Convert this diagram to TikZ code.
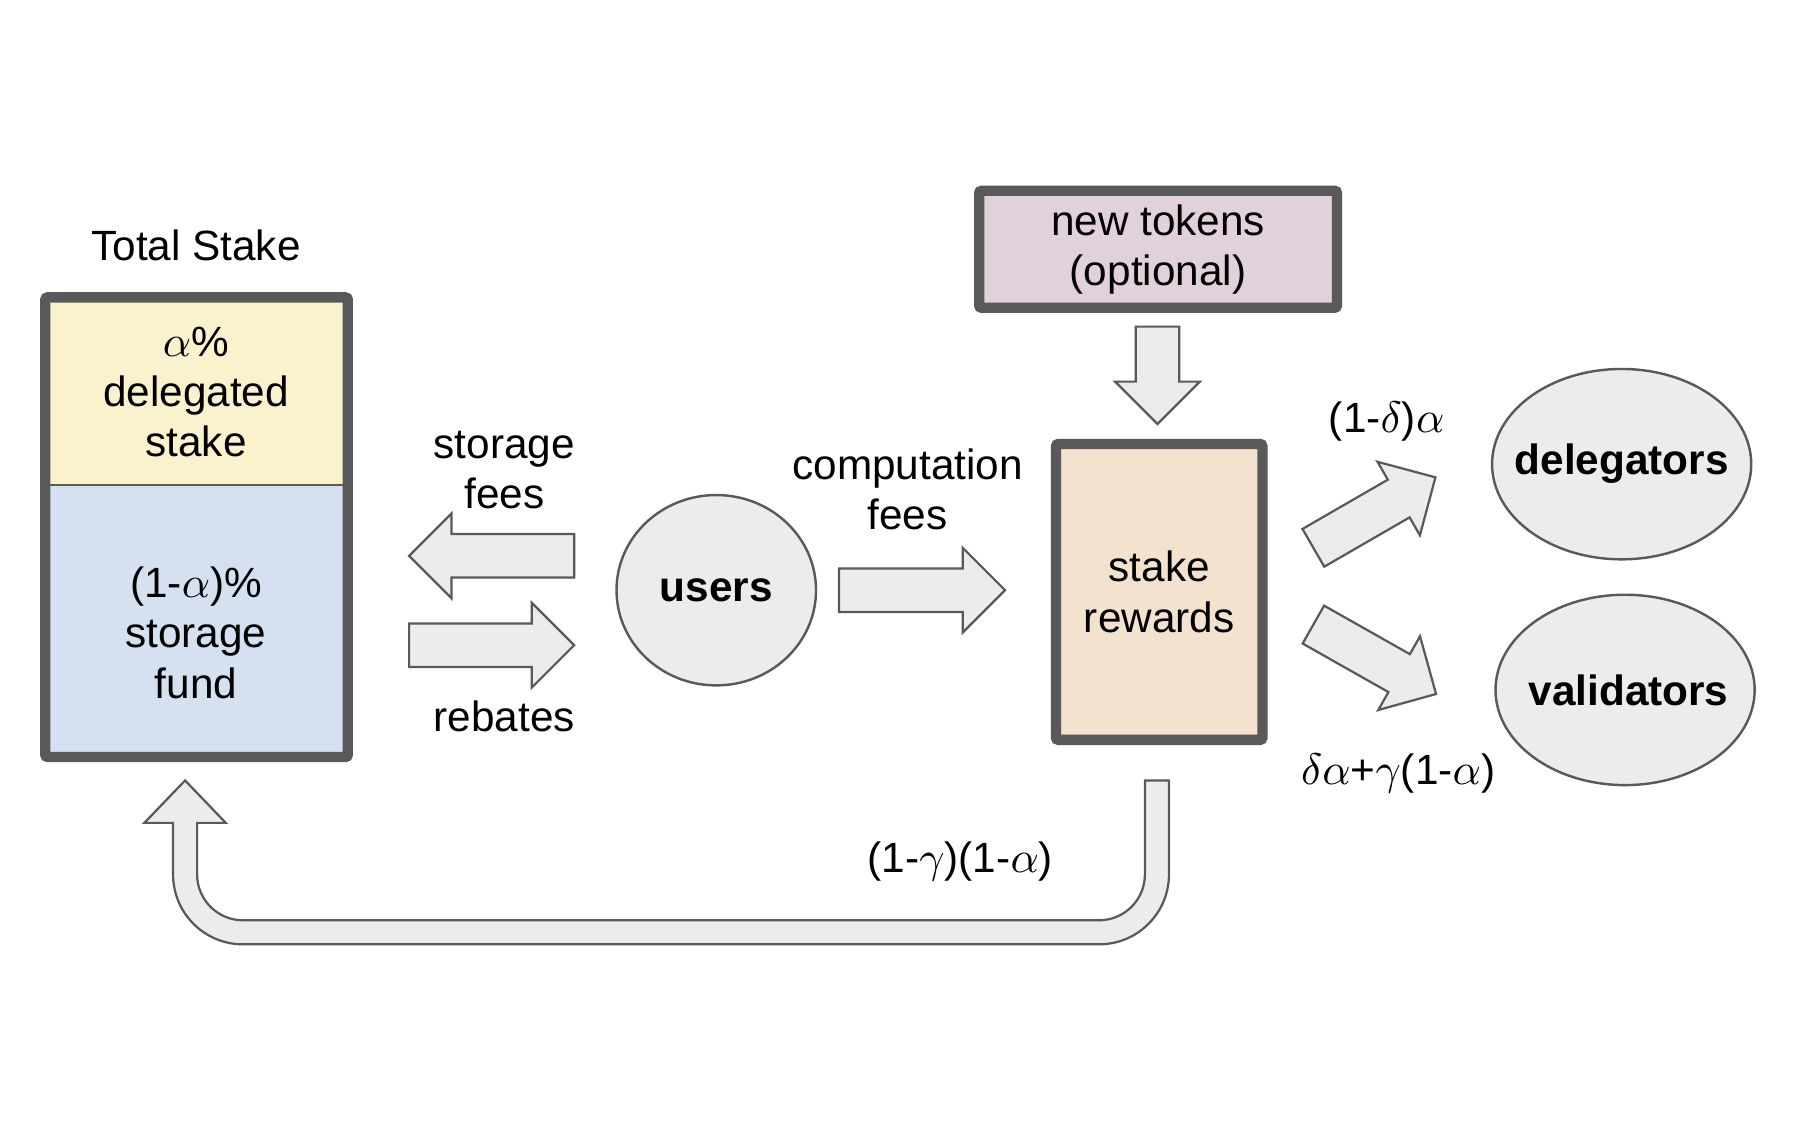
\documentclass[tikz,border=0pt]{standalone}
\usepackage{fontspec}
\setmainfont{Liberation Sans}
\usetikzlibrary{shapes.geometric}

\definecolor{framegray}{RGB}{89,89,89}
\definecolor{flowgray}{RGB}{236,236,236}
\definecolor{stakeyellow}{RGB}{250,242,205}
\definecolor{fundblue}{RGB}{213,225,241}
\definecolor{rewardtan}{RGB}{243,227,206}
\definecolor{tokenpink}{RGB}{225,209,219}

\tikzset{
    box/.style={draw=framegray, line width=0.09cm, rounded corners=0.6pt},
    blob/.style={ellipse, draw=framegray, line width=0.6pt, fill=flowgray, inner sep=0pt},
    flow/.style={draw=framegray, line width=0.55pt, fill=flowgray},
    txt/.style={align=center, font=\fontsize{10.5}{12.5}\selectfont},
}

\begin{document}
\begin{tikzpicture}[x=0.01cm, y=-0.01cm]
    \fill[white] (0,0) rectangle (1568,1000);

    % total stake
    \fill[stakeyellow] (39.5,259.5) rectangle (303.5,423);
    \fill[fundblue] (39.5,423) rectangle (303.5,660.5);
    \draw[framegray, line width=0.6pt] (39.5,423) -- (303.5,423);
    \draw[box] (39.5,259.5) rectangle (303.5,660.5);
    \node[txt] (total) at (171,214) {Total Stake};
    \node[txt] (delegated) at (171,342) {$\alpha$\%\\delegated\\stake};
    \node[txt] (fund) at (171,552) {(1-$\alpha$)\%\\storage\\fund};

    % users and rewards
    \node[blob, minimum width=1.74cm, minimum height=1.66cm] (users) at (625,515) {};
    \node[txt, font=\fontsize{10.5}{12.5}\selectfont\bfseries] at (users) {users};
    \node[box, fill=tokenpink, minimum width=3.12cm, minimum height=1.02cm] (tokens) at (1010.5,217.5) {};
    \node[txt] at (tokens) {new tokens\\(optional)};
    \node[box, fill=rewardtan, minimum width=1.80cm, minimum height=2.58cm] (rewards) at (1011.5,516.5) {};
    \node[txt] at (rewards) {stake\\rewards};

    \node[blob, minimum width=2.26cm, minimum height=1.66cm] (delegators) at (1415,405) {};
    \node[txt, font=\fontsize{10.5}{12.5}\selectfont\bfseries] at (delegators) {delegators};
    \node[blob, minimum width=2.26cm, minimum height=1.66cm] (validators) at (1418,602) {};
    \node[txt, font=\fontsize{10.5}{12.5}\selectfont\bfseries] at ([xshift=0.03cm]validators) {validators};

    % block arrows
    \foreach \x/\y/\a/\l in {501/485/180/144, 357/563/0/144, 732/515/0/145,
                             1010/285/-90/85, 1146/478/30/123, 1146/545/-29.5/123}
        \draw[flow, shift={(\x,\y)}, rotate=\a]
            (0,-19) -- (\l-37,-19) -- (\l-37,-37) -- (\l,0) -- (\l-37,37) -- (\l-37,19) -- (0,19) -- cycle;

    % return to storage fund
    \draw[flow] (1020,681) -- (1020,763) .. controls (1020,796.7) and (992.7,824) .. (959,824)
        -- (212,824) .. controls (178.3,824) and (151,796.7) .. (151,763)
        -- (151,718) -- (126,718) -- (161.5,681) -- (197,718) -- (172,718)
        -- (172,763) .. controls (172,785.1) and (189.9,803) .. (212,803)
        -- (959,803) .. controls (981.1,803) and (999,785.1) .. (999,763)
        -- (999,681) -- cycle;

    % labels
    \node[txt] (sfees) at (440,410) {storage\\fees};
    \node[txt] (rebates) at (440,625) {rebates};
    \node[txt] (cfees) at (792,427) {computation\\fees};
    \node[txt] (dshare) at (1210,368) {(1-$\delta$)$\alpha$};
    \node[txt] (vshare) at (1220,675) {$\delta\alpha$+$\gamma$(1-$\alpha$)};
    \node[txt] (fshare) at (838,752) {(1-$\gamma$)(1-$\alpha$)};
\end{tikzpicture}
\end{document}
